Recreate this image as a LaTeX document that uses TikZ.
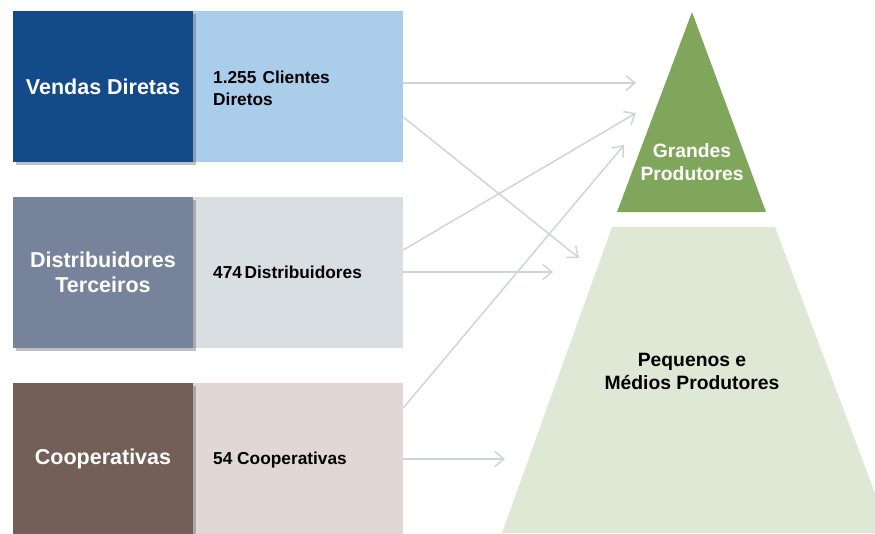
\documentclass[tikz,border=0pt]{standalone}
\usepackage{fontspec}
\setmainfont{Liberation Sans}
\usetikzlibrary{arrows.meta,shadows}
\definecolor{dblue}{HTML}{134A8A}
\definecolor{lblue}{HTML}{AACDEB}
\definecolor{dgrey}{HTML}{77839A}
\definecolor{lgrey}{HTML}{D9DEE2}
\definecolor{dbrown}{HTML}{735F58}
\definecolor{lbrown}{HTML}{E1D7D4}
\definecolor{dgreen}{HTML}{7FA65A}
\definecolor{lgreen}{HTML}{DEE8D5}
\definecolor{arr}{HTML}{CFD3DB}
\begin{document}
\begin{tikzpicture}[x=1pt,y=-1pt,
  darkbox/.style={minimum width=180pt,minimum height=151pt,inner sep=0pt,align=center,text=white,
    font=\fontsize{21.5}{25}\selectfont\bfseries,
    drop shadow={shadow xshift=2.5pt,shadow yshift=-3pt,opacity=0.35,fill=black!70}},
  lightbox/.style={minimum width=210pt,minimum height=151pt,inner sep=0pt},
  inner/.style={anchor=west,align=left,text=black,inner sep=0pt,font=\fontsize{17.3}{22}\selectfont\bfseries},
  flow/.style={draw=arr,line width=1.5pt,-{Straight Barb[length=9pt,width=15pt,line width=1.5pt]}}]
\useasboundingbox (0,0) rectangle (875,533);
% pyramid
\fill[dgreen] (692,12) -- (766,212) -- (617,212) -- cycle;
\fill[lgreen] (612,227) -- (775,227) -- (890,533) -- (502,533) -- cycle;
\node[text=white,align=center,font=\fontsize{19.3}{23}\selectfont\bfseries] (gp) at (692,162) {Grandes\\Produtores};
\node[text=black,align=center,font=\fontsize{19.3}{23}\selectfont\bfseries] (pm) at (692,371) {Pequenos e\\Médios Produtores};
% boxes
\node[lightbox,fill=lblue] (l1) at (298,86.5) {};
\node[lightbox,fill=lgrey] (l2) at (298,272.5) {};
\node[lightbox,fill=lbrown] (l3) at (298,458.5) {};
\node[darkbox,fill=dblue] (d1) at (103,86.5) {Vendas Diretas};
\node[darkbox,fill=dgrey] (d2) at (103,272.5) {Distribuidores\\Terceiros};
\node[darkbox,fill=dbrown] (d3) at (103,458.5) {Cooperativas};
\node[inner] (t1) at (213,88) {1.255\hspace{0.35em}Clientes\\Diretos};
\node[inner] (t2) at (213,272) {474\hspace{0.15em}Distribuidores};
\node[inner] (t3) at (213,460) {54 Cooperativas};
% arrow ends
\coordinate (s1) at (l1.east |- 0,83);
\coordinate (s2) at (l1.east |- 0,117);
\coordinate (s3) at (l2.east |- 0,250);
\coordinate (s4) at (l2.east |- 0,272);
\coordinate (s5) at (l3.east |- 0,408);
\coordinate (s6) at (l3.east |- 0,459);
\coordinate (e1) at (636,83);
\coordinate (e2) at (579,258);
\coordinate (e3) at (636,113);
\coordinate (e4) at (553,272);
\coordinate (e5) at (624,145);
\coordinate (e6) at (505,459);
\draw[flow] (s1) -- (e1);
\draw[flow] (s2) -- (e2);
\draw[flow] (s3) -- (e3);
\draw[flow] (s4) -- (e4);
\draw[flow] (s5) -- (e5);
\draw[flow] (s6) -- (e6);
\end{tikzpicture}
\end{document}
